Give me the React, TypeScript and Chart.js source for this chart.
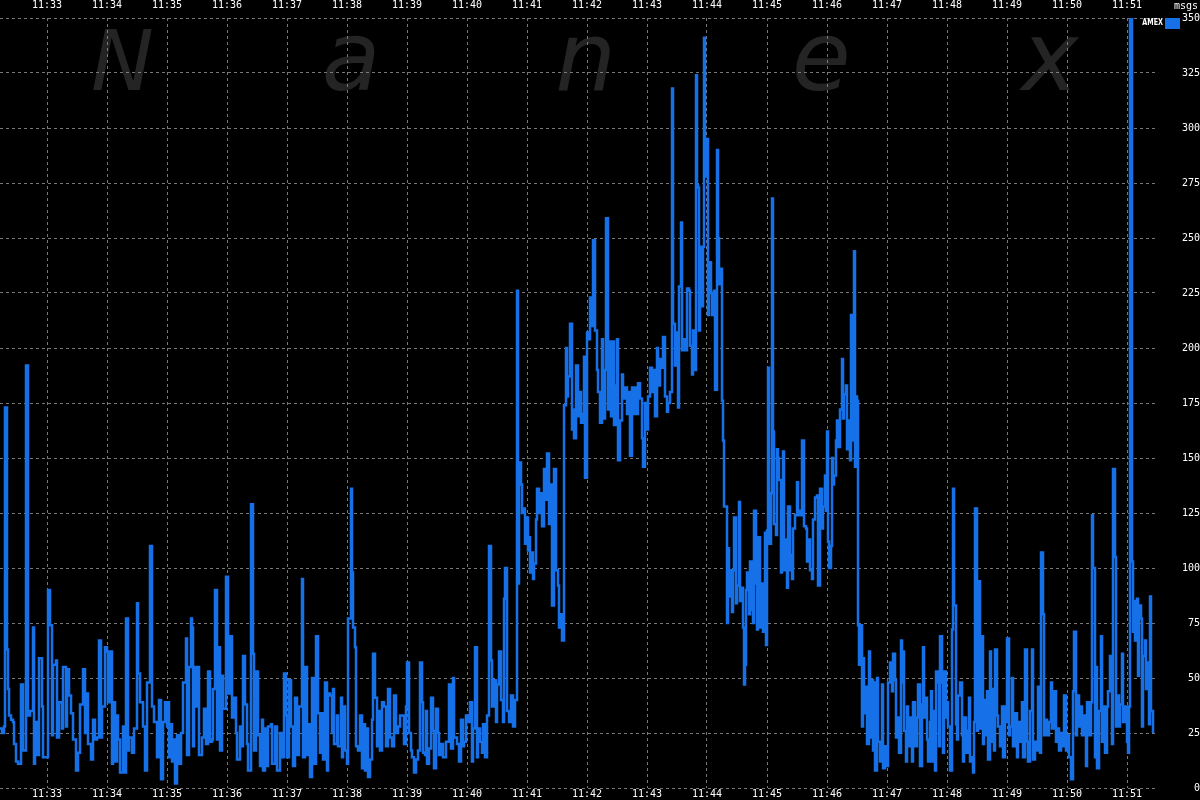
import { useEffect, useRef } from 'react';
import { Chart, registerables } from 'chart.js';

Chart.register(...registerables);

// ---- data ----
const START_TIME = '11:32:13';
const END_SECONDS = 1155;
const timeLabels = ['11:33', '11:34', '11:35', '11:36', '11:37', '11:38', '11:39', '11:40', '11:41', '11:42', '11:43', '11:44', '11:45', '11:46', '11:47', '11:48', '11:49', '11:50', '11:51'];
const yMax = 350;
const yStep = 25;
const seriesName = 'AMEX';
const unitLabel = 'msgs';
const watermarkLetters = ['N', 'a', 'n', 'e', 'x'];

// [seconds after START_TIME, messages]
const amex1132: [number, number][] = [[0,27],[2,25],[4,28],[5,173],[7,63],[8,45],[9,33],[11,31],[13,30],[14,20],[16,12],[18,11],[21,47],[23,17],[26,192],[28,33],[30,35],[33,73],[34,11],[35,30],[37,15],[39,59],[42,37],[43,14],[45,14],[48,90],[50,74],[52,24],[53,56],[56,58],[57,23],[59,39],[62,27],[63,55],[66,28],[67,54],[69,42],[71,34],[73,22],[76,8],[78,16],[80,38],[83,54],[85,25],[87,43],[88,20],[91,13],[93,31],[95,22],[97,23],[99,67],[101,23],[102,37],[105,64],[107,62],[108,39],[110,62],[112,11],[113,39],[115,12],[117,33],[118,22],[120,7],[123,28],[124,7],[126,77],[128,17],[129,23],[132,16],[134,27],[137,84],[138,52],[140,39],[143,28],[145,8],[147,48],[150,110],[152,37],[154,30],[157,14],[159,40],[161,4],[163,30]];
const amex1135: [number, number][] = [[165,39],[167,28],[168,39],[169,14],[170,29],[172,12],[173,22],[175,2],[177,24],[179,11],[181,25],[183,48],[186,68],[187,15],[189,55],[191,77],[192,73],[193,19],[194,55],[196,37],[198,55],[199,15],[202,23],[204,36],[206,20],[208,53],[210,21],[212,22],[213,45],[215,90],[217,22],[218,64],[220,17],[222,51],[223,36],[226,96],[228,43],[230,69],[232,32],[234,41],[236,25],[237,13],[240,28],[242,19],[243,60],[245,38],[247,20],[248,8],[251,129],[253,61],[254,17],[256,53],[258,24],[260,10],[262,31],[263,8],[265,27],[267,10],[268,28],[271,29],[272,11],[275,28],[277,8],[280,25],[282,14],[284,52],[286,33],[287,14],[289,49],[291,28],[293,10],[295,41],[297,15],[299,37],[302,95],[303,14],[305,55],[307,15],[308,29],[310,5],[312,50],[314,11],[316,69],[318,34],[320,16],[322,34],[323,13],[325,48],[327,8],[328,43]];
const amex1138: [number, number][] = [[330,42],[332,25],[333,45],[334,20],[337,33],[338,19],[341,41],[342,14],[343,37],[345,17],[347,11],[348,77],[351,136],[352,98],[353,73],[355,64],[356,19],[358,17],[360,33],[362,9],[363,29],[365,8],[367,27],[368,5],[370,13],[372,31],[373,61],[375,41],[377,19],[378,35],[380,17],[382,39],[384,37],[386,19],[388,45],[390,23],[392,19],[394,42],[396,25],[398,28],[400,33],[403,33],[404,20],[406,37],[407,57],[409,25],[411,17],[412,14],[414,7],[416,13],[418,17],[420,57],[422,39],[423,16],[425,15],[426,35],[427,11],[429,18],[431,41],[433,26],[434,9],[436,36],[438,25],[439,15],[441,20],[443,14],[446,21],[449,47],[451,18],[453,50],[454,23],[457,20],[459,12],[461,31],[463,19],[464,21],[466,33],[468,30],[470,39],[472,12],[473,27],[475,64],[477,14],[478,27],[480,21],[482,16],[483,29],[485,14],[487,33],[489,110],[491,58],[492,37],[494,49],[496,30],[497,47],[499,62],[501,40],[503,30],[504,86],[505,100],[507,35],[509,30],[511,42],[513,28],[515,40]];
const amex1141: [number, number][] = [[517,226],[518,93],[519,148],[521,138],[522,125],[524,127],[525,111],[526,123],[528,108],[529,114],[530,98],[532,107],[533,95],[534,102],[536,122],[537,136],[539,125],[541,134],[542,119],[544,145],[546,131],[547,152],[549,120],[551,138],[552,83],[554,145],[556,99],[558,92],[559,73],[561,79],[562,67],[564,174],[566,200],[567,178],[568,187],[570,211],[572,163],[573,172],[574,159],[576,192],[578,169],[579,180],[581,166],[583,170],[584,196],[585,141],[587,207],[588,204],[590,223],[592,210],[593,249],[595,208],[597,190],[598,180],[600,166],[602,204],[603,168],[605,190],[606,259],[608,172],[609,203],[611,169],[612,203],[614,165],[616,183],[617,204],[618,149],[620,167],[622,188],[623,177],[625,182],[627,170],[628,180],[630,151],[632,182],[633,170],[635,182],[637,170],[638,184],[640,177],[642,159],[643,146],[645,175],[647,163],[648,178],[650,191],[652,180],[653,190],[655,169],[657,200],[658,183]];
const amex1144: [number, number][] = [[660,195],[662,191],[663,205],[665,178],[667,171],[668,175],[670,180],[672,318],[673,211],[675,192],[677,207],[678,173],[679,228],[681,257],[682,199],[684,204],[686,199],[687,227],[689,226],[690,201],[692,188],[693,208],[695,190],[696,324],[697,274],[698,273],[699,208],[700,246],[702,219],[703,246],[704,341],[705,280],[706,278],[707,295],[708,215],[709,239],[711,225],[712,215],[714,226],[715,181],[717,290],[718,250],[719,229],[721,236],[722,176],[723,158],[724,128],[726,128],[727,75],[728,109],[729,87],[731,99],[732,80],[733,99],[734,123],[736,84],[737,92],[739,130],[740,85],[742,91],[743,73],[744,47],[745,56],[746,90],[747,98],[749,79],[750,103],[752,81],[753,75],[754,126],[756,93],[757,72],[758,114],[760,73],[762,93],[763,71],[765,116],[766,65],[767,117],[768,191],[769,111],[771,134],[772,268],[773,162],[774,120],[776,115],[777,154],[778,150],[779,140],[781,98],[782,101],[783,153],[784,99],[786,113],[787,91],[788,128],[790,99],[791,106],[792,95],[793,118],[795,124],[797,139],[798,124],[799,126],[801,124],[802,158],[804,119],[806,118],[807,103],[808,113],[810,99],[812,95],[813,122],[815,132],[817,133],[818,92],[820,136],[822,118],[823,128],[825,142]];
const amex1146: [number, number][] = [[826,126],[827,162],[828,112],[829,100],[831,110],[832,150],[833,138],[834,142],[836,158],[837,167],[838,155],[840,172],[842,195],[843,168],[844,179],[846,183],[847,154],[848,167],[850,149],[851,215],[852,158],[854,244],[855,146],[856,178],[857,176],[858,74],[859,56],[861,74],[862,28],[863,59],[864,34],[866,46],[867,20],[869,62],[870,23],[871,49],[873,17],[874,48],[875,8],[877,50],[878,21],[880,12],[882,47],[883,9],[885,19],[887,10],[888,48],[890,57],[892,44],[893,61],[895,49],[896,23],[898,32],[899,16],[901,67],[902,48],[903,62],[904,26],[906,12],[907,37],[908,19],[910,32],[912,12],[913,39],[915,19],[917,32],[918,47],[920,10],[922,38],[923,64],[924,32],[926,41],[927,22],[928,12],[930,30],[931,44],[932,12],[934,35],[935,8],[936,53],[938,48],[939,19],[940,69],[942,48],[943,16],[944,53],[946,32],[947,39],[948,28],[950,8],[952,72],[953,136],[954,83],[956,29],[957,22],[958,42],[960,48],[962,24],[963,12],[964,32],[966,16],[968,26],[969,41],[970,12],[972,14],[973,7],[974,30],[975,127],[977,26],[978,55],[979,94],[980,27],[982,69],[983,20],[984,40],[986,24],[987,44],[988,13]];
const amex1149: [number, number][] = [[990,62],[991,21],[993,45],[994,17],[995,63],[997,33],[998,28],[1000,19],[1002,37],[1003,14],[1005,37],[1006,30],[1007,68],[1009,24],[1010,28],[1012,50],[1013,19],[1015,34],[1017,14],[1018,30],[1020,21],[1022,39],[1023,14],[1025,63],[1027,21],[1028,12],[1030,35],[1032,63],[1033,13],[1035,21],[1037,17],[1038,46],[1040,16],[1041,107],[1043,79],[1044,24],[1046,31],[1047,24],[1049,30],[1051,48],[1052,27],[1054,44],[1056,21],[1057,27],[1059,17],[1061,25],[1063,19],[1064,42],[1066,17],[1067,24],[1069,14],[1071,4],[1073,44],[1074,71],[1076,24],[1077,42],[1079,28],[1081,37],[1082,24],[1084,33],[1086,10],[1087,39],[1089,24],[1091,39],[1092,124],[1093,100],[1095,14],[1096,55],[1097,9],[1099,35],[1101,69],[1102,21],[1103,37],[1105,16],[1107,37],[1108,44],[1110,60],[1112,20],[1113,145],[1115,105],[1116,28],[1117,42],[1119,28],[1120,38],[1122,61],[1123,30],[1125,37],[1127,21],[1128,16],[1129,37],[1130,352],[1132,103],[1133,71],[1134,85],[1135,67],[1137,86],[1138,51],[1139,83],[1141,77],[1142,28],[1143,60],[1145,67],[1146,45],[1147,57],[1149,29],[1150,87],[1151,35],[1153,25]];

// ---- helpers ----
const toSeconds = (t: string) => {
  const [h, m, s] = t.split(':').map(Number);
  return h * 3600 + m * 60 + (s || 0);
};
const startSec = toSeconds(START_TIME);
const tickOffsets = timeLabels.map((l) => toSeconds(l) - startSec);
const labelFor = (v: number) => {
  const i = tickOffsets.indexOf(v);
  return i >= 0 ? timeLabels[i] : '';
};

const BLUE = '#1670e8';
const MONO = '"DejaVu Sans Mono", monospace';
const GRID = 'rgba(140,140,140,0.85)';

const backgroundPlugin = {
  id: 'nanexBackground',
  beforeDraw(chart: any) {
    const { ctx, width, height } = chart;
    ctx.save();
    ctx.fillStyle = '#000';
    ctx.fillRect(0, 0, width, height);
    // watermark
    const a = chart.chartArea;
    const w = a.right - a.left;
    const centers = [0.106, 0.304, 0.507, 0.711, 0.909];
    ctx.fillStyle = 'rgb(36,36,36)';
    ctx.textAlign = 'center';
    ctx.textBaseline = 'alphabetic';
    watermarkLetters.forEach((ch, i) => {
      const upper = ch === ch.toUpperCase();
      ctx.font = upper ? 'oblique 84px "DejaVu Sans"' : 'oblique 96px "DejaVu Sans"';
      ctx.fillText(ch, a.left + centers[i] * w, 90);
    });
    ctx.restore();
  },
  afterDraw(chart: any) {
    const { ctx } = chart;
    const a = chart.chartArea;
    ctx.save();
    ctx.fillStyle = '#fff';
    ctx.font = `10px ${MONO}`;
    ctx.textAlign = 'right';
    ctx.textBaseline = 'top';
    ctx.fillText(unitLabel, chart.width - 2, 1);
    // legend
    ctx.fillStyle = BLUE;
    ctx.fillRect(a.right + 10, 18, 15, 11);
    ctx.fillStyle = '#fff';
    ctx.font = `bold 8px "DejaVu Sans"`;
    ctx.textBaseline = 'middle';
    ctx.save();
    ctx.translate(a.right + 8, 23);
    ctx.scale(0.8, 1);
    ctx.fillText(seriesName, 0, 0);
    ctx.restore();
    ctx.restore();
  },
};

export default function App() {
  const ref = useRef<HTMLCanvasElement | null>(null);
  useEffect(() => {
    if (!ref.current) return;
    const points = [...amex1132, ...amex1135, ...amex1138, ...amex1141, ...amex1144, ...amex1146, ...amex1149].map(([x, y]) => ({ x, y }));
    const xTicks = {
      color: '#fff',
      font: { family: MONO, size: 10 },
      maxRotation: 0,
      autoSkip: false,
      callback: (v: any) => labelFor(Number(v)),
    };
    const setTicks = (axis: any) => {
      axis.ticks = tickOffsets.map((value) => ({ value }));
    };
    const chart = new Chart(ref.current, {
      type: 'line',
      data: {
        datasets: [
          {
            label: seriesName,
            data: points,
            borderColor: BLUE,
            backgroundColor: BLUE,
            borderWidth: 2.5,
            pointRadius: 0,
            stepped: true,
            fill: false,
          },
        ],
      },
      options: {
        animation: false,
        responsive: false,
        devicePixelRatio: 1,
        layout: { padding: 0 },
        plugins: {
          legend: { display: false },
          tooltip: { enabled: false },
        },
        scales: {
          x: {
            type: 'linear',
            position: 'bottom',
            min: 0,
            max: END_SECONDS,
            afterBuildTicks: setTicks,
            afterFit: (s: any) => { s.height = 12; s.paddingLeft = 0; s.paddingRight = 0; },
            grid: { color: GRID, drawTicks: false, lineWidth: 1 },
            border: { display: false, dash: [3, 3] },
            ticks: { ...xTicks, padding: 0 },
          },
          xTop: {
            type: 'linear',
            position: 'top',
            min: 0,
            max: END_SECONDS,
            afterBuildTicks: setTicks,
            afterFit: (s: any) => { s.height = 18; s.paddingLeft = 0; s.paddingRight = 0; },
            grid: { display: false, drawTicks: false },
            border: { display: false },
            ticks: { ...xTicks, padding: 7 },
          },
          y: {
            type: 'linear',
            position: 'right',
            min: 0,
            max: yMax,
            afterFit: (s: any) => { s.width = 45; s.paddingTop = 0; s.paddingBottom = 0; },
            grid: { color: GRID, drawTicks: false, lineWidth: 1 },
            border: { display: false, dash: [3, 3] },
            ticks: {
              stepSize: yStep,
              color: '#fff',
              font: { family: MONO, size: 10 },
              crossAlign: 'far',
              padding: 25,
            },
          },
        },
      } as any,
      plugins: [backgroundPlugin],
    });
    return () => chart.destroy();
  }, []);
  return (
    <div style={{ position: 'fixed', left: 0, top: 0, width: 1200, height: 800, background: '#000' }}>
      <canvas ref={ref} width={1200} height={800} style={{ display: 'block' }} />
    </div>
  );
}
